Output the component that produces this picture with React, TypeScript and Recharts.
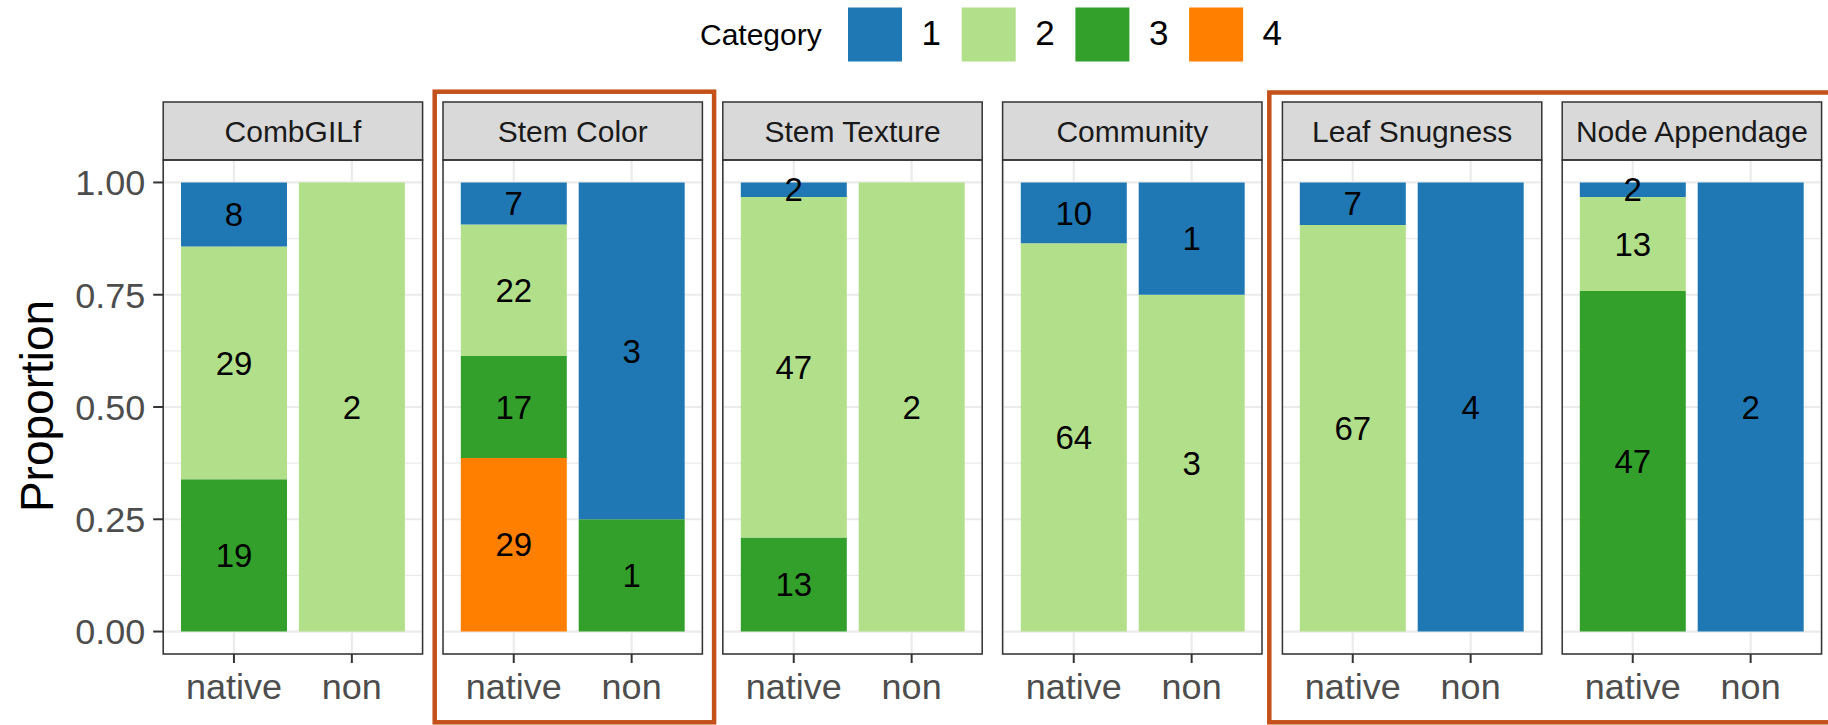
import React from 'react';
import { BarChart, Bar, XAxis, YAxis, CartesianGrid, LabelList } from 'recharts';

// Faceted 100% stacked bars: trait category counts for native vs non-native plants.
const facets = ['CombGILf', 'Stem Color', 'Stem Texture', 'Community', 'Leaf Snugness', 'Node Appendage'];
const origins = ['native', 'non'];
const categories = ['1', '2', '3', '4'];

// counts per facet, as [native, non]
const cat1Counts = [[8, 0], [7, 3], [2, 0], [10, 1], [7, 4], [2, 2]];
const cat2Counts = [[29, 2], [22, 0], [47, 2], [64, 3], [67, 0], [13, 0]];
const cat3Counts = [[19, 0], [17, 1], [13, 0], [0, 0], [0, 0], [47, 0]];
const cat4Counts = [[0, 0], [29, 0], [0, 0], [0, 0], [0, 0], [0, 0]];

const yTicks = [0, 0.25, 0.5, 0.75, 1];
const yMinorTicks = [0.125, 0.375, 0.625, 0.875];

const categoryColors = ['#1f78b4', '#b2df8a', '#33a02c', '#ff7f00'];
const highlightColor = '#c4501a';

const FONT = '"Liberation Sans", Arial, Helvetica, sans-serif';

// layout
const FIRST_LEFT = 163.2;
const PANEL_W = 259.4;
const PANEL_STEP = 279.8;
const STRIP_TOP = 102;
const PLOT_TOP = 160;
const PLOT_H = 494;
const XAXIS_H = 70;

const countTable = [cat1Counts, cat2Counts, cat3Counts, cat4Counts];

// each row keeps the raw counts (c1..c4) and their share of the bar (p1..p4)
function rowsFor(facetIndex: number) {
  return origins.map((origin, j) => {
    const row: Record<string, string | number> = { origin };
    const total = countTable.reduce((s, counts) => s + counts[facetIndex][j], 0);
    countTable.forEach((counts, k) => {
      const n = counts[facetIndex][j];
      row[`c${k + 1}`] = n;
      row[`p${k + 1}`] = total ? n / total : 0;
    });
    return row;
  });
}

const hideZero = (v: any) => (v ? v : '');

function FacetChart({ index }: { index: number }) {
  const withAxis = index === 0;
  const panelLeft = FIRST_LEFT + index * PANEL_STEP;
  const yAxisW = withAxis ? FIRST_LEFT : 0;
  const chartLeft = panelLeft - yAxisW;
  const data = rowsFor(index);
  const stackOrder = [3, 2, 1, 0];
  return (
    <div style={{ position: 'absolute', left: chartLeft, top: PLOT_TOP }}>
      <BarChart
        width={yAxisW + PANEL_W}
        height={PLOT_H + XAXIS_H}
        data={data}
        barSize={106}
        margin={{ top: 0, right: 0, bottom: 0, left: 0 }}
      >
        <CartesianGrid yAxisId="minor" vertical={false} stroke="#ebebeb" strokeWidth={1.1} />
        <CartesianGrid stroke="#ebebeb" strokeWidth={2.2} />
        <XAxis
          dataKey="origin"
          height={XAXIS_H}
          interval={0}
          padding={{ left: 11.8, right: 11.8 }}
          axisLine={false}
          tickSize={9}
          tickMargin={10}
          tickLine={{ stroke: '#333333', strokeWidth: 2 }}
          tick={{ fill: '#4d4d4d', fontSize: 36, fontFamily: FONT }}
        />
        <YAxis
          yAxisId="minor"
          type="number"
          hide
          domain={[-0.05, 1.05]}
          ticks={yMinorTicks}
          allowDataOverflow
        />
        <YAxis
          type="number"
          hide={!withAxis}
          width={yAxisW}
          domain={[-0.05, 1.05]}
          ticks={yTicks}
          allowDataOverflow
          interval={0}
          tickFormatter={(v: number) => v.toFixed(2)}
          axisLine={false}
          tickSize={10}
          tickMargin={8}
          tickLine={{ stroke: '#333333', strokeWidth: 2 }}
          tick={{ fill: '#4d4d4d', fontSize: 36, fontFamily: FONT }}
        />
        {stackOrder.map((k) => (
          <Bar
            key={k}
            dataKey={`p${k + 1}`}
            stackId="share"
            fill={categoryColors[k]}
            isAnimationActive={false}
          >
            <LabelList
              dataKey={`c${k + 1}`}
              position="center"
              fill="#000000"
              fontSize={33}
              fontFamily={FONT}
              formatter={hideZero}
            />
          </Bar>
        ))}
      </BarChart>
    </div>
  );
}

function Overlay() {
  const keyLeft = 848;
  const keyStep = 113.7;
  const keySize = 54;
  return (
    <svg
      width={1828}
      height={725}
      style={{ position: 'absolute', left: 0, top: 0, pointerEvents: 'none' }}
      fontFamily={FONT}
    >
      {/* legend */}
      <text x={700} y={45} fontSize={30} fill="#000">Category</text>
      {categories.map((c, i) => (
        <g key={c}>
          <rect x={keyLeft + i * keyStep} y={7.5} width={keySize} height={keySize} fill={categoryColors[i]} />
          <text x={keyLeft + i * keyStep + keySize + 19.5} y={45} fontSize={35} fill="#000">{c}</text>
        </g>
      ))}

      {/* y axis title */}
      <text transform="translate(53,406) rotate(-90)" textAnchor="middle" fontSize={46} fill="#000">
        Proportion
      </text>

      {/* facet strips and panel borders */}
      {facets.map((f, i) => {
        const left = FIRST_LEFT + i * PANEL_STEP;
        return (
          <g key={f}>
            <rect x={left} y={STRIP_TOP} width={PANEL_W} height={PLOT_TOP - STRIP_TOP} fill="#d9d9d9" stroke="#333333" strokeWidth={1.5} />
            <text x={left + PANEL_W / 2} y={141.7} textAnchor="middle" fontSize={30} fill="#1a1a1a">{f}</text>
            <rect x={left} y={PLOT_TOP} width={PANEL_W} height={PLOT_H} fill="none" stroke="#333333" strokeWidth={1.5} />
          </g>
        );
      })}

      {/* highlight frames */}
      <rect x={434.7} y={91.7} width={279.4} height={630.6} fill="none" stroke={highlightColor} strokeWidth={4.5} />
      <rect x={1269.3} y={92.5} width={600} height={629.8} fill="none" stroke={highlightColor} strokeWidth={4.5} />
    </svg>
  );
}

export default function App() {
  return (
    <div
      style={{
        position: 'absolute',
        left: 0,
        top: 0,
        width: 1828,
        height: 725,
        background: '#ffffff',
        fontFamily: FONT,
        overflow: 'hidden',
      }}
    >
      {facets.map((f, i) => (
        <FacetChart key={f} index={i} />
      ))}
      <Overlay />
    </div>
  );
}
